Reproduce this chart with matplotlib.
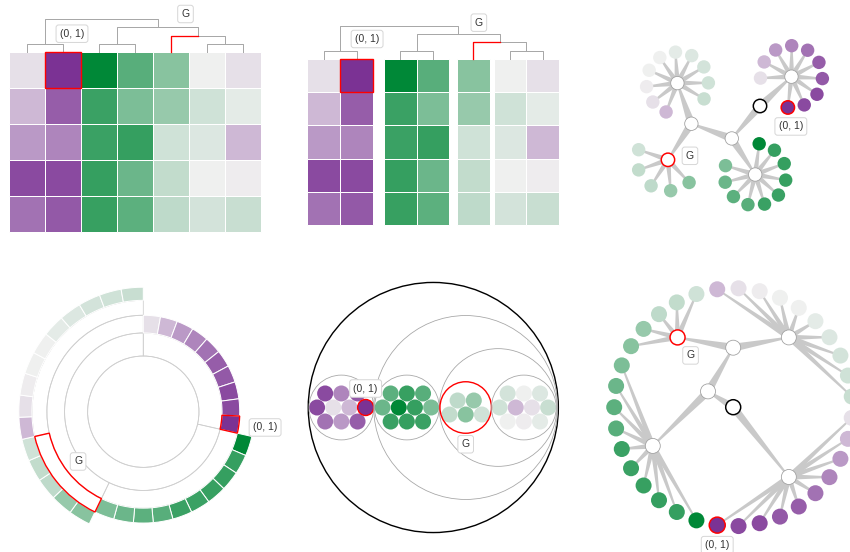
import numpy as np
import matplotlib
matplotlib.use('Agg')
import matplotlib.pyplot as plt
from matplotlib.colors import LinearSegmentedColormap
from matplotlib.patches import Rectangle, Circle, Wedge, Polygon

plt.rcParams['font.family'] = ['Liberation Sans', 'DejaVu Sans']

W, H = 850, 552
PX = 0.72  # one pixel in points at dpi 100

# cell values, 5 rows x 7 columns: -1 purple ... +1 green
row_0 = [-0.08, -1.00, 1.00, 0.63, 0.43, 0.00, -0.08]
row_1 = [-0.29, -0.77, 0.75, 0.48, 0.37, 0.14, 0.05]
row_2 = [-0.46, -0.56, 0.75, 0.78, 0.14, 0.08, -0.29]
row_3 = [-0.87, -0.87, 0.78, 0.55, 0.19, 0.00, -0.02]
row_4 = [-0.66, -0.79, 0.77, 0.61, 0.21, 0.12, 0.17]
values = np.array([row_0, row_1, row_2, row_3, row_4])

# column clusters, the order of cells inside them, and how they merge
group_names = ['A', 'B', 'G', 'C']
group_columns = [[0, 1], [2, 3], [4], [5, 6]]
group_sort = [-1, -1, -1, 1]
merges = [('X', ['G', 'C']), ('R', ['B', 'X']), ('root', ['A', 'R'])]

label_node = 'G'
label_cell = (0, 1)

RED = '#ff0000'
cmap = LinearSegmentedColormap.from_list('purple_green', ['#7b3294', '#f0f0f0', '#008837'])


def color(v):
    return cmap((v + 1) / 2)


def walk(node):
    yield node
    for ch in node['children']:
        yield from walk(ch)


def leaves(node):
    if not node['children']:
        return [node]
    return [l for ch in node['children'] for l in leaves(ch)]


def annotate(node, depth=0):
    node['depth'] = depth
    for ch in node['children']:
        annotate(ch, depth + 1)
    node['height'] = 1 + max((ch['height'] for ch in node['children']), default=-1)


def cell_tree():
    nodes = {}
    for name, cols, direction in zip(group_names, group_columns, group_sort):
        cells = [(r, c) for c in cols for r in range(values.shape[0])]
        cells.sort(key=lambda rc: direction * values[rc])
        nodes[name] = {'name': name, 'children': [{'name': rc, 'cell': rc, 'children': []} for rc in cells]}
    for name, kids in merges:
        nodes[name] = {'name': name, 'children': [nodes[k] for k in kids]}
    annotate(nodes['root'])
    return nodes['root']


def column_tree():
    nodes = {}
    for name, cols in zip(group_names, group_columns):
        if len(cols) == 1:
            nodes[name] = {'name': name, 'col': cols[0], 'children': []}
        else:
            nodes[name] = {'name': name, 'children': [{'name': c, 'col': c, 'children': []} for c in cols]}
    for name, kids in merges:
        nodes[name] = {'name': name, 'children': [nodes[k] for k in kids]}
    annotate(nodes['root'])
    return nodes['root']


fig = plt.figure(figsize=(W / 100, H / 100), dpi=100)


def panel(x0, y0, w, h):
    ax = fig.add_axes([x0 / W, 1 - (y0 + h) / H, w / W, h / H])
    ax.set_xlim(x0, x0 + w)
    ax.set_ylim(y0 + h, y0)
    ax.axis('off')
    return ax


def tag(ax, x, y, text):
    ax.text(x, y, text, ha='center', va='center', fontsize=7.5, color='#333333', zorder=10,
            bbox=dict(boxstyle='round,pad=0.36,rounding_size=0.25', fc='white', ec='#d6d6d6', lw=0.7))


# ---------- heatmap + dendrogram ----------
def draw_heatmap(ax, col_left, cw, ch, top):
    for r in range(values.shape[0]):
        for c in range(values.shape[1]):
            ax.add_patch(Rectangle((col_left[c], top + r * ch), cw, ch, fc=color(values[r, c]),
                                   ec='white', lw=PX, zorder=1))
    r, c = label_cell
    ax.add_patch(Rectangle((col_left[c], top + r * ch), cw, ch, fill=False, ec=RED, lw=1.4 * PX, zorder=4))


def place_columns(node, col_x, base_y, level):
    if not node['children']:
        node['pos'] = (col_x[node['col']], base_y)
        return
    for ch in node['children']:
        place_columns(ch, col_x, base_y, level)
    node['pos'] = (np.mean([ch['pos'][0] for ch in node['children']]), base_y - level * node['height'])
    for ch in node['children']:
        ch['bend'] = (ch['pos'][0], node['pos'][1])


def draw_links(ax, node):
    px, py = node['pos']
    for ch in node['children']:
        cx, cy = ch['pos']
        hot = ch['name'] == label_node
        ax.plot([cx, cx, px], [cy, py, py], color=RED if hot else '#a8a8a8',
                lw=(1.3 if hot else 1.0) * PX, zorder=3 if hot else 2)
        draw_links(ax, ch)


def column_gaps(node, gaps):
    for a, b in zip(node['children'][:-1], node['children'][1:]):
        gaps[leaves(a)[-1]['col']] = node['height']
    for ch in node['children']:
        column_gaps(ch, gaps)


ncols = values.shape[1]
ctree = column_tree()
col_nodes = {n['name']: n for n in walk(ctree)}

# plain heatmap
ax1 = panel(0, 0, 283, 276)
cw1, top1 = 36, 51.7
left1 = [9 + c * cw1 for c in range(ncols)]
draw_heatmap(ax1, left1, cw1, cw1, top1)
place_columns(ctree, [l + cw1 / 2 for l in left1], top1, 8.1)
draw_links(ax1, ctree)
tag(ax1, left1[label_cell[1]] + cw1 / 2 + 9, top1 - 18, '(0, 1)')
gx, gy = col_nodes[label_node]['bend']
tag(ax1, gx + 14.5, gy - 21.5, 'G')

# heatmap split by cluster height
ax2 = panel(283, 0, 283, 276)
cw2, ch2, top2 = 32.86, 33.3, 58.7
gaps = {}
column_gaps(ctree, gaps)
left2, x = [], 307.3
for c in range(ncols):
    left2.append(x)
    x += cw2
    h = gaps.get(c, 0)
    if h > 1:
        x += 0.67 + 3.33 * (h - 1)
draw_heatmap(ax2, left2, cw2, ch2, top2)
place_columns(ctree, [l + cw2 / 2 for l in left2], top2, 8.17)
draw_links(ax2, ctree)
tag(ax2, left2[label_cell[1]] + cw2 / 2 + 10.5, top2 - 19.7, '(0, 1)')
gx, gy = col_nodes[label_node]['bend']
tag(ax2, gx + 5.7, gy - 19.7, 'G')


# ---------- node-link diagrams ----------
def taper(ax, p, q, w0, w1):
    p = np.asarray(p, float)
    q = np.asarray(q, float)
    d = q - p
    n = np.array([-d[1], d[0]]) / np.hypot(*d)
    pts = [p + n * w0 / 2, q + n * w1 / 2, q - n * w1 / 2, p - n * w0 / 2]
    ax.add_patch(Polygon(pts, closed=True, fc='#c9c9c9', ec='none', zorder=1))


def draw_graph(ax, root, node_r, leaf_r):
    for node in walk(root):
        for ch in node['children']:
            w0 = 8.0 if ch['children'] else 5.5
            taper(ax, node['pos'], ch['pos'], w0, 1.6)
    for node in walk(root):
        if node['children']:
            if node is root:
                ec, lw = '#000000', 1.5
            elif node['name'] == label_node:
                ec, lw = RED, 1.5
            else:
                ec, lw = '#a0a0a0', 0.8
            ax.add_patch(Circle(node['pos'], node_r, fc='white', ec=ec, lw=lw * PX, zorder=3))
        else:
            hot = node['cell'] == label_cell
            ax.add_patch(Circle(node['pos'], leaf_r, fc=color(values[node['cell']]),
                                ec=RED if hot else 'none', lw=1.5 * PX, zorder=3))


def find(root, key):
    for n in walk(root):
        if n['name'] == key:
            return n


# spring-like layout: branch directions for the inner links, cells fanned round their cluster
branch_dir = {'A': 43, 'R': -131, 'B': -57, 'X': 160, 'G': -123, 'C': 109}
branch_len, twig_len = 43.0, 31.0


def place_spread(node, pos, incoming):
    node['pos'] = pos
    kids = node['children']
    if not kids:
        return
    if not kids[0]['children']:
        n = len(kids)
        step = min(38.0, 360.0 / (n + 1.6))
        first = incoming + 180 - (360 - (n - 1) * step) / 2
        for k, ch in enumerate(kids):
            a = np.radians(first - k * step)
            ch['pos'] = (pos[0] + twig_len * np.cos(a), pos[1] - twig_len * np.sin(a))
        return
    for ch in kids:
        a = np.radians(branch_dir[ch['name']])
        place_spread(ch, (pos[0] + branch_len * np.cos(a), pos[1] - branch_len * np.sin(a)),
                     branch_dir[ch['name']])


ax3 = panel(566, 0, 284, 276)
tree3 = cell_tree()
place_spread(tree3, (760, 106), 0)
draw_graph(ax3, tree3, 6.7, 6.7)
lx, ly = find(tree3, label_cell)['pos']
tag(ax3, lx + 3, ly + 19, '(0, 1)')
gx, gy = find(tree3, label_node)['pos']
tag(ax3, gx + 22, gy - 4, 'G')

# ---------- radial partition ----------
ax4 = panel(0, 276, 283, 276)
tree4 = cell_tree()
c4 = (143.3, 411.7)
R4 = 124.5


def rad(d):
    return R4 * np.sqrt(d / 5)


def place_partition(node, a0, a1):
    node['span'] = (a0, a1)
    total = len(leaves(node))
    a = a0
    for ch in node['children']:
        b = a + (a1 - a0) * len(leaves(ch)) / total
        place_partition(ch, a, b)
        a = b


def polar(center, r, theta):
    t = np.radians(theta)
    return center[0] + r * np.sin(t), center[1] - r * np.cos(t)


place_partition(tree4, 0, 360)
for node in walk(tree4):
    d = node['depth']
    t0, t1 = node['span']
    if node is tree4:
        ax4.add_patch(Circle(c4, rad(1), fill=False, ec='#cfcfcf', lw=0.8 * PX, zorder=1))
    elif node['children']:
        hot = node['name'] == label_node
        ax4.add_patch(Wedge(c4, rad(d + 1), t0 - 90, t1 - 90, width=rad(d + 1) - rad(d), fill=False,
                            ec=RED if hot else '#cfcfcf', lw=(1.4 if hot else 0.8) * PX,
                            zorder=4 if hot else 1))
    else:
        hot = node['cell'] == label_cell
        ax4.add_patch(Wedge(c4, rad(d + 1), t0 - 90, t1 - 90, width=rad(d + 1) - rad(d),
                            fc=color(values[node['cell']]), ec='white', lw=PX, zorder=2))
        if hot:
            ax4.add_patch(Wedge(c4, rad(d + 1), t0 - 90, t1 - 90, width=rad(d + 1) - rad(d),
                                fill=False, ec=RED, lw=1.4 * PX, zorder=4))
n = find(tree4, label_cell)
lx, ly = polar(c4, (rad(n['depth']) + rad(n['depth'] + 1)) / 2, np.mean(n['span']))
tag(ax4, lx + 35, ly + 4, '(0, 1)')
n = find(tree4, label_node)
gx, gy = polar(c4, (rad(n['depth']) + rad(n['depth'] + 1)) / 2, np.mean(n['span']))
tag(ax4, gx + 16, gy - 15, 'G')

# ---------- circle packing ----------
ax5 = panel(283, 276, 283, 276)
tree5 = cell_tree()
pitch, leaf_r5, pad5 = 16.2, 8.0, 0.7


def hex_points(n, d):
    h = d * np.sqrt(3) / 2
    off = np.array([0.5 * d, 0.0 if n % 2 == 0 else h / 2])
    pts = [np.array([i * d + (0.5 * d if j % 2 else 0.0), j * h]) - off
           for i in range(-5, 6) for j in range(-5, 6)]
    pts.sort(key=lambda p: (round(np.hypot(*p), 4), -np.arctan2(p[1], p[0])))
    return pts[:n]


def pack_radius(node):
    kids = node['children']
    if not kids[0]['children']:
        node['offsets'] = hex_points(len(kids), pitch)
        node['r'] = max(np.hypot(*o) for o in node['offsets']) + pitch / 2
        return
    for ch in kids:
        pack_radius(ch)
    node['r'] = sum(ch['r'] for ch in kids) + pad5


def pack_place(node, pos):
    node['pos'] = pos
    kids = node['children']
    if 'offsets' in node:
        for ch, o in zip(kids, node['offsets']):
            ch['pos'] = (pos[0] + o[0], pos[1] + o[1])
        return
    x = pos[0] - sum(ch['r'] for ch in kids)
    for ch in kids:
        pack_place(ch, (x + ch['r'], pos[1]))
        x += 2 * ch['r']


pack_radius(tree5)
pack_place(tree5, (433.3, 407.5))
for node in walk(tree5):
    if node['children']:
        if node is tree5:
            ec, lw = '#000000', 1.4
        elif node['name'] == label_node:
            ec, lw = RED, 1.4
        else:
            ec, lw = '#a6a6a6', 0.8
        ax5.add_patch(Circle(node['pos'], node['r'], fill=False, ec=ec, lw=lw * PX, zorder=3))
    else:
        hot = node['cell'] == label_cell
        ax5.add_patch(Circle(node['pos'], leaf_r5, fc=color(values[node['cell']]),
                             ec=RED if hot else 'none', lw=1.4 * PX, zorder=2 + hot))
lx, ly = find(tree5, label_cell)['pos']
tag(ax5, lx, ly - 19, '(0, 1)')
n = find(tree5, label_node)
tag(ax5, n['pos'][0], n['pos'][1] + n['r'] + 11, 'G')

# ---------- radial cluster tree ----------
ax6 = panel(566, 276, 284, 276)
tree6 = cell_tree()
c6, R6 = (733.2, 407.2), 119.0
cells6 = leaves(tree6)
for i, lf in enumerate(cells6):
    lf['theta'] = 90 + (i + 0.5) * 360 / len(cells6)


def cluster_angle(node):
    if node['children']:
        node['theta'] = np.mean([cluster_angle(ch) for ch in node['children']])
    return node['theta']


cluster_angle(tree6)
for node in walk(tree6):
    r = R6 * (tree6['height'] - node['height']) / tree6['height']
    node['pos'] = polar(c6, r, node['theta'])
draw_graph(ax6, tree6, 7.5, 8.0)
lx, ly = find(tree6, label_cell)['pos']
tag(ax6, lx, ly + 20, '(0, 1)')
gx, gy = find(tree6, label_node)['pos']
tag(ax6, gx + 13, gy + 18, 'G')

fig.savefig('out.png', dpi=100, facecolor='white')
